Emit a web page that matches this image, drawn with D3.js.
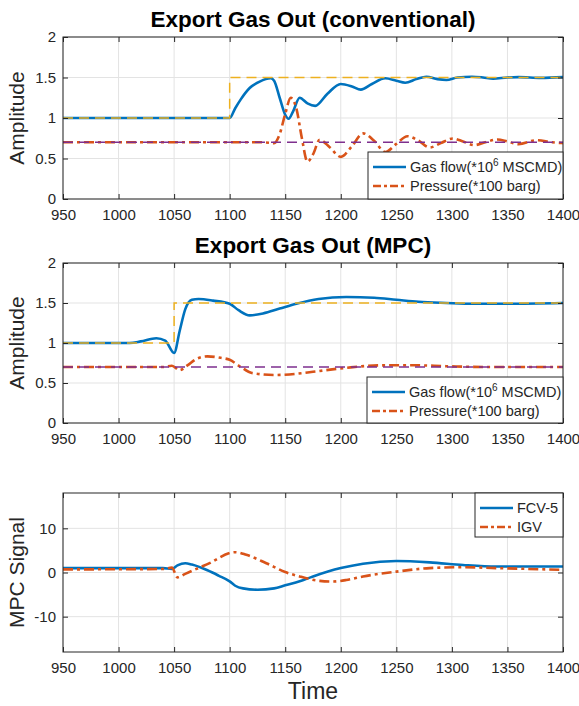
<!DOCTYPE html>
<html>
<head>
<meta charset="utf-8">
<script src="https://cdn.jsdelivr.net/npm/d3@7"></script>
<style>
  body { margin: 0; background: #fff; }
  text { font-family: "Liberation Sans", Arial, Helvetica, sans-serif; }
</style>
</head>
<body>
<div id="chart"></div>
<script>
// x ticks shared by all panels
var xTicks = [950, 1000, 1050, 1100, 1150, 1200, 1250, 1300, 1350, 1400];

// panel 1 - conventional
var convFlowT = [950, 1100, 1105, 1110, 1118, 1127, 1137, 1140, 1145, 1150, 1153, 1157, 1163, 1170, 1177, 1188, 1200, 1210, 1218, 1228, 1240, 1250, 1258, 1268, 1277, 1287, 1295, 1305, 1318, 1328, 1337, 1350, 1360, 1380, 1400];
var convFlowV = [1.0, 1.0, 1.12, 1.23, 1.37, 1.45, 1.49, 1.46, 1.25, 1.04, 0.99, 1.08, 1.25, 1.18, 1.15, 1.3, 1.42, 1.39, 1.35, 1.42, 1.49, 1.46, 1.435, 1.48, 1.51, 1.48, 1.47, 1.5, 1.51, 1.5, 1.485, 1.5, 1.505, 1.495, 1.505];
var convPresT = [950, 1130, 1140, 1145, 1150, 1155, 1160, 1165, 1170, 1175, 1181, 1190, 1200, 1210, 1220, 1230, 1240, 1250, 1260, 1270, 1280, 1290, 1301, 1310, 1320, 1330, 1341, 1350, 1360, 1376, 1390, 1400];
var convPresV = [0.7, 0.7, 0.69, 0.8, 1.05, 1.25, 1.12, 0.75, 0.46, 0.55, 0.73, 0.64, 0.52, 0.65, 0.81, 0.72, 0.58, 0.68, 0.775, 0.72, 0.636, 0.69, 0.747, 0.71, 0.665, 0.7, 0.735, 0.71, 0.677, 0.725, 0.7, 0.69];
var convRefT = [950, 1100, 1100, 1400];
var convRefV = [1, 1, 1.5, 1.5];

// panel 2 - MPC
var mpcFlowT = [950, 1010, 1020, 1034, 1042, 1050, 1055, 1060, 1066, 1072, 1085, 1100, 1108, 1118, 1130, 1145, 1160, 1180, 1205, 1230, 1250, 1270, 1295, 1320, 1350, 1400];
var mpcFlowV = [1.0, 1.0, 1.02, 1.06, 1.03, 0.875, 1.15, 1.42, 1.54, 1.55, 1.53, 1.49, 1.41, 1.345, 1.37, 1.43, 1.49, 1.55, 1.575, 1.565, 1.54, 1.515, 1.5, 1.49, 1.49, 1.5];
var mpcPresT = [950, 1040, 1048, 1055, 1062, 1070, 1080, 1092, 1100, 1110, 1120, 1140, 1160, 1175, 1205, 1235, 1265, 1295, 1330, 1400];
var mpcPresV = [0.7, 0.7, 0.715, 0.66, 0.72, 0.8, 0.833, 0.815, 0.79, 0.7, 0.625, 0.6, 0.615, 0.64, 0.69, 0.72, 0.722, 0.71, 0.7, 0.7];
var mpcRefT = [950, 1050, 1050, 1400];
var mpcRefV = [1, 1, 1.5, 1.5];

var presRefT = [950, 1400];
var presRefV = [0.7, 0.7];

// panel 3 - MPC signals
var fcvT = [950, 1040, 1048, 1053, 1060, 1066, 1080, 1090, 1100, 1105, 1112, 1125, 1140, 1150, 1163, 1175, 1200, 1220, 1250, 1280, 1310, 1340, 1400];
var fcvV = [1.0, 1.0, 0.8, 1.6, 2.1, 1.8, 0.5, -0.7, -2.0, -3.0, -3.6, -3.9, -3.6, -2.9, -2.0, -0.9, 1.0, 2.0, 2.6, 2.3, 1.7, 1.35, 1.35];
var igvT = [950, 1040, 1048, 1053, 1060, 1080, 1105, 1115, 1133, 1150, 1163, 1181, 1192, 1205, 1220, 1250, 1280, 1310, 1340, 1400];
var igvV = [0.7, 0.8, 1.1, -1.1, -0.3, 1.9, 4.6, 4.0, 2.1, 0.1, -0.9, -1.9, -2.05, -1.7, -0.9, 0.2, 1.0, 1.2, 1.0, 0.6];

var ampTicks = [0, 0.5, 1, 1.5, 2];
var sigTicks = [-10, 0, 10];

var blue = "#0072BD", orange = "#D95319", yellow = "#EDB120", purple = "#7E2F8E";
var axisCol = "#262626";

var W = 579, H = 706;
var svg = d3.select("#chart").append("svg").attr("width", W).attr("height", H);

function zip(t, v) { return t.map(function(d, i) { return [d, v[i]]; }); }
var fmt = function(d) { return String(d); };

function panel(opt) {
  var x = d3.scaleLinear().domain([950, 1400]).range([63, 563]);
  var y = d3.scaleLinear().domain(opt.ydomain).range([opt.bottom, opt.top]);
  var g = svg.append("g");

  // grid
  g.selectAll(".gx").data(xTicks).enter().append("line")
    .attr("x1", function(d) { return x(d); }).attr("x2", function(d) { return x(d); })
    .attr("y1", opt.top).attr("y2", opt.bottom)
    .attr("stroke", "#e3e3e3").attr("stroke-width", 1);
  g.selectAll(".gy").data(opt.yticks).enter().append("line")
    .attr("x1", 63).attr("x2", 563)
    .attr("y1", function(d) { return y(d); }).attr("y2", function(d) { return y(d); })
    .attr("stroke", "#e3e3e3").attr("stroke-width", 1);

  var clip = "clip" + opt.top;
  svg.append("clipPath").attr("id", clip).append("rect")
    .attr("x", 63).attr("y", opt.top).attr("width", 500).attr("height", opt.bottom - opt.top);

  var line = d3.line().x(function(d) { return x(d[0]); }).y(function(d) { return y(d[1]); });
  var smooth = d3.line().curve(d3.curveMonotoneX).x(function(d) { return x(d[0]); }).y(function(d) { return y(d[1]); });

  var lg = g.append("g").attr("clip-path", "url(#" + clip + ")");
  opt.series.forEach(function(s) {
    lg.append("path").datum(s.data)
      .attr("d", s.smooth ? smooth : line)
      .attr("fill", "none")
      .attr("stroke", s.color)
      .attr("stroke-width", s.width)
      .attr("stroke-dasharray", s.dash || null);
  });

  // axes box and inward ticks
  g.append("rect").attr("x", 63).attr("y", opt.top).attr("width", 500).attr("height", opt.bottom - opt.top)
    .attr("fill", "none").attr("stroke", axisCol).attr("stroke-width", 1);

  g.append("g").attr("transform", "translate(0," + opt.bottom + ")")
    .call(d3.axisBottom(x).tickValues(xTicks).tickFormat(fmt).tickSizeInner(-5).tickSizeOuter(0).tickPadding(10));
  g.append("g").attr("transform", "translate(0," + opt.top + ")")
    .call(d3.axisTop(x).tickValues(xTicks).tickSizeInner(-5).tickSizeOuter(0).tickFormat(""));
  g.append("g").attr("transform", "translate(63,0)")
    .call(d3.axisLeft(y).tickValues(opt.yticks).tickFormat(fmt).tickSizeInner(-5).tickSizeOuter(0).tickPadding(7));
  g.append("g").attr("transform", "translate(563,0)")
    .call(d3.axisRight(y).tickValues(opt.yticks).tickSizeInner(-5).tickSizeOuter(0).tickFormat(""));
  g.selectAll(".domain").remove();
  g.selectAll(".tick line").attr("stroke", axisCol);
  g.selectAll(".tick text").attr("fill", axisCol).style("font-size", "15px")
    .style("font-family", "'Liberation Sans', Arial, sans-serif");

  // y label
  g.append("text")
    .attr("transform", "translate(" + 24 + "," + ((opt.top + opt.bottom) / 2) + ") rotate(-90)")
    .attr("text-anchor", "middle").attr("fill", axisCol)
    .style("font-size", "21px").text(opt.ylabel);

  if (opt.title) {
    g.append("text").attr("x", 313).attr("y", opt.top - 10).attr("text-anchor", "middle")
      .style("font-size", "22.5px").style("font-weight", "bold").attr("fill", "#000").text(opt.title);
  }

  // legend
  var L = opt.legend;
  g.append("rect").attr("x", L.x).attr("y", L.y).attr("width", L.w).attr("height", L.h)
    .attr("fill", "#fff").attr("stroke", axisCol).attr("stroke-width", 1);
  L.items.forEach(function(it, i) {
    var yy = L.y + 15 + i * 19;
    g.append("line").attr("x1", L.x + 5).attr("x2", L.x + 38).attr("y1", yy).attr("y2", yy)
      .attr("stroke", it.color).attr("stroke-width", 2.5).attr("stroke-dasharray", it.dash || null);
    var t = g.append("text").attr("x", L.x + 42).attr("y", yy + 5).attr("fill", axisCol).style("font-size", "14.5px");
    it.parts.forEach(function(p) {
      var ts = t.append("tspan").text(p.text);
      if (p.sup) ts.attr("dy", -6).style("font-size", "10px");
      if (p.after) ts.attr("dy", 6);
    });
  });
  return g;
}

var dashDot = "10,4,3,4";

panel({
  top: 37, bottom: 199, ydomain: [0, 2], yticks: ampTicks, ylabel: "Amplitude",
  title: "Export Gas Out (conventional)",
  series: [
    { data: zip(convFlowT, convFlowV), color: blue, width: 2.6, smooth: true },
    { data: zip(convPresT, convPresV), color: orange, width: 2.6, smooth: true, dash: dashDot },
    { data: zip(convRefT, convRefV), color: yellow, width: 1.5, dash: "10,6" },
    { data: zip(presRefT, presRefV), color: purple, width: 1.5, dash: "10,6" }
  ],
  legend: { x: 368, y: 152, w: 195, h: 47, items: [
    { color: blue, parts: [{ text: "Gas flow(*10" }, { text: "6", sup: true }, { text: " MSCMD)", after: true }] },
    { color: orange, dash: "8,3,3,3", parts: [{ text: "Pressure(*100 barg)" }] }
  ] }
});

panel({
  top: 263, bottom: 423, ydomain: [0, 2], yticks: ampTicks, ylabel: "Amplitude",
  title: "Export Gas Out (MPC)",
  series: [
    { data: zip(mpcFlowT, mpcFlowV), color: blue, width: 2.6, smooth: true },
    { data: zip(mpcPresT, mpcPresV), color: orange, width: 2.6, smooth: true, dash: dashDot },
    { data: zip(mpcRefT, mpcRefV), color: yellow, width: 1.5, dash: "10,6" },
    { data: zip(presRefT, presRefV), color: purple, width: 1.5, dash: "10,6" }
  ],
  legend: { x: 367, y: 377, w: 196, h: 46, items: [
    { color: blue, parts: [{ text: "Gas flow(*10" }, { text: "6", sup: true }, { text: " MSCMD)", after: true }] },
    { color: orange, dash: "8,3,3,3", parts: [{ text: "Pressure(*100 barg)" }] }
  ] }
});

panel({
  top: 493, bottom: 652, ydomain: [-18, 18], yticks: sigTicks, ylabel: "MPC Signal",
  series: [
    { data: zip(fcvT, fcvV), color: blue, width: 2.6, smooth: true },
    { data: zip(igvT, igvV), color: orange, width: 2.6, smooth: true, dash: dashDot }
  ],
  legend: { x: 475, y: 493, w: 88, h: 44, items: [
    { color: blue, parts: [{ text: "FCV-5" }] },
    { color: orange, dash: "8,3,3,3", parts: [{ text: "IGV" }] }
  ] }
});

svg.append("text").attr("x", 313).attr("y", 699).attr("text-anchor", "middle")
  .attr("fill", axisCol).style("font-size", "23px").text("Time");
</script>
</body>
</html>
